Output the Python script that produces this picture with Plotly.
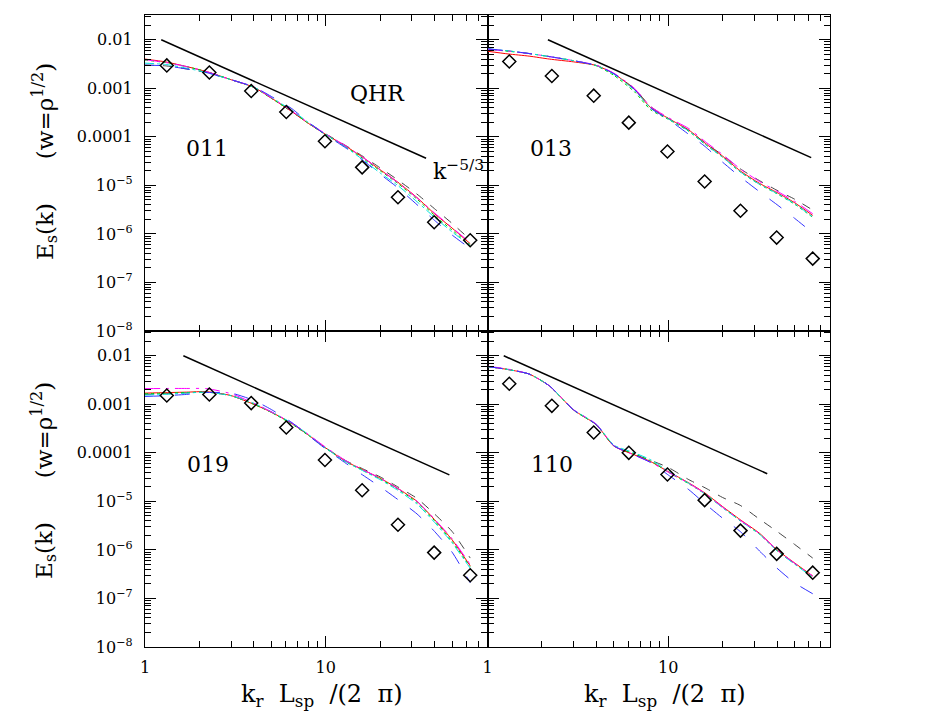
import plotly.graph_objects as go

# ---------------- data ----------------
K = [1, 1.3, 1.7, 2.2, 3, 4, 5, 6.5, 8, 10, 13, 16, 20, 25, 32, 40, 50, 63]
DK = [1.32, 2.27, 3.87, 6.05, 9.9, 15.9, 25.1, 39.8, 63]

PANELS = ["011", "013", "019", "110"]

# panel 011
E011_red = [4.0e-3, 3.5e-3, 2.8e-3, 2.2e-3, 1.5e-3, 1.05e-3, 6.3e-4, 3.3e-4, 1.9e-4, 1.12e-4, 6.3e-5, 3.8e-5, 2.1e-5, 1.17e-5, 5.6e-6, 2.6e-6, 1.32e-6, 6.3e-7]
E011_mag = [3.9e-3, 3.4e-3, 2.8e-3, 2.2e-3, 1.5e-3, 1.07e-3, 6.4e-4, 3.4e-4, 1.95e-4, 1.15e-4, 6.4e-5, 3.8e-5, 2.1e-5, 1.15e-5, 5.5e-6, 2.7e-6, 1.35e-6, 6.6e-7]
E011_grn = [3.8e-3, 3.4e-3, 2.8e-3, 2.2e-3, 1.5e-3, 1.04e-3, 6.2e-4, 3.3e-4, 1.9e-4, 1.1e-4, 6.1e-5, 3.6e-5, 2.0e-5, 1.1e-5, 5.2e-6, 2.4e-6, 1.2e-6, 6.0e-7]
E011_cyn = [3.3e-3, 3.1e-3, 2.6e-3, 2.1e-3, 1.5e-3, 1.06e-3, 6.5e-4, 3.5e-4, 2.0e-4, 1.12e-4, 6.0e-5, 3.4e-5, 1.8e-5, 1.0e-5, 4.6e-6, 2.2e-6, 1.1e-6, 5.8e-7]
E011_blk = [3.0e-3, 2.9e-3, 2.5e-3, 2.1e-3, 1.5e-3, 1.05e-3, 6.3e-4, 3.3e-4, 1.95e-4, 1.15e-4, 6.5e-5, 4.0e-5, 2.3e-5, 1.3e-5, 6.6e-6, 3.3e-6, 1.65e-6, 7.6e-7]
E011_blu = [3.0e-3, 2.9e-3, 2.5e-3, 2.1e-3, 1.5e-3, 1.07e-3, 6.8e-4, 3.8e-4, 2.0e-4, 1.1e-4, 5.8e-5, 3.3e-5, 1.7e-5, 9.0e-6, 4.0e-6, 1.9e-6, 9.5e-7, 5.0e-7]
D011 = [2.96e-3, 2.12e-3, 8.8e-4, 3.25e-4, 8.1e-5, 2.35e-5, 5.7e-6, 1.74e-6, 7.4e-7]

# panel 013
E013_red = [5.8e-3, 5.1e-3, 4.6e-3, 4.0e-3, 3.5e-3, 2.95e-3, 2.0e-3, 9.5e-4, 4.0e-4, 2.4e-4, 1.38e-4, 7.4e-5, 4.0e-5, 2.0e-5, 1.1e-5, 7.1e-6, 4.4e-6, 2.4e-6]
E013_mag = [6.4e-3, 5.8e-3, 5.2e-3, 4.5e-3, 3.7e-3, 3.0e-3, 2.05e-3, 1.0e-3, 4.2e-4, 2.5e-4, 1.48e-4, 8.0e-5, 4.3e-5, 2.2e-5, 1.2e-5, 7.6e-6, 4.7e-6, 2.6e-6]
E013_grn = [6.4e-3, 5.8e-3, 5.2e-3, 4.5e-3, 3.7e-3, 2.9e-3, 1.85e-3, 8.5e-4, 3.6e-4, 2.3e-4, 1.3e-4, 7.0e-5, 3.8e-5, 1.9e-5, 1.05e-5, 6.7e-6, 4.1e-6, 2.2e-6]
E013_cyn = [6.5e-3, 5.9e-3, 5.2e-3, 4.5e-3, 3.7e-3, 2.95e-3, 1.95e-3, 9.2e-4, 3.9e-4, 2.35e-4, 1.32e-4, 7.1e-5, 3.8e-5, 1.9e-5, 1.05e-5, 6.8e-6, 4.2e-6, 2.25e-6]
E013_blk = [6.5e-3, 5.9e-3, 5.2e-3, 4.5e-3, 3.7e-3, 2.95e-3, 2.0e-3, 9.8e-4, 4.2e-4, 2.4e-4, 1.35e-4, 7.5e-5, 4.2e-5, 2.2e-5, 1.25e-5, 7.9e-6, 5.2e-6, 3.1e-6]
E013_blu = [6.5e-3, 5.9e-3, 5.2e-3, 4.5e-3, 3.7e-3, 2.95e-3, 2.0e-3, 9.5e-4, 3.9e-4, 2.3e-4, 1.12e-4, 6.3e-5, 3.0e-5, 1.5e-5, 7.4e-6, 4.0e-6, 2.1e-6, 1.05e-6]
D013 = [3.57e-3, 1.79e-3, 7.05e-4, 1.96e-4, 5.0e-5, 1.2e-5, 3.0e-6, 8.4e-7, 3.1e-7]

# panel 019
E019_red = [1.7e-3, 1.74e-3, 1.78e-3, 1.82e-3, 1.51e-3, 1.0e-3, 6.9e-4, 4.0e-4, 2.35e-4, 1.26e-4, 6.6e-5, 4.5e-5, 3.0e-5, 1.86e-5, 1.0e-5, 4.2e-6, 1.62e-6, 4.7e-7]
E019_mag = [2.1e-3, 2.12e-3, 2.12e-3, 2.1e-3, 1.65e-3, 1.05e-3, 7.0e-4, 4.1e-4, 2.4e-4, 1.3e-4, 6.8e-5, 4.5e-5, 3.0e-5, 1.85e-5, 1.0e-5, 4.3e-6, 1.7e-6, 5.0e-7]
E019_grn = [1.65e-3, 1.7e-3, 1.75e-3, 1.78e-3, 1.5e-3, 1.0e-3, 6.8e-4, 3.9e-4, 2.3e-4, 1.25e-4, 6.4e-5, 4.4e-5, 2.9e-5, 1.8e-5, 9.5e-6, 4.0e-6, 1.5e-6, 4.5e-7]
E019_cyn = [1.55e-3, 1.6e-3, 1.7e-3, 1.78e-3, 1.5e-3, 1.05e-3, 7.0e-4, 4.1e-4, 2.4e-4, 1.25e-4, 6.5e-5, 4.3e-5, 2.8e-5, 1.7e-5, 8.8e-6, 3.7e-6, 1.4e-6, 4.2e-7]
E019_blk = [1.6e-3, 1.65e-3, 1.72e-3, 1.78e-3, 1.5e-3, 1.02e-3, 6.9e-4, 4.0e-4, 2.35e-4, 1.27e-4, 6.8e-5, 4.7e-5, 3.2e-5, 2.0e-5, 1.15e-5, 5.5e-6, 2.4e-6, 6.8e-7]
E019_blu = [1.45e-3, 1.5e-3, 1.6e-3, 1.75e-3, 1.7e-3, 1.2e-3, 7.8e-4, 4.2e-4, 2.3e-4, 1.2e-4, 6.0e-5, 3.5e-5, 2.0e-5, 1.1e-5, 5.5e-6, 2.4e-6, 9.0e-7, 2.1e-7]
D019 = [1.52e-3, 1.59e-3, 1.06e-3, 3.33e-4, 7.1e-5, 1.7e-5, 3.3e-6, 8.8e-7, 3.0e-7]

# panel 110
E110_red = [6.0e-3, 5.2e-3, 4.2e-3, 2.4e-3, 7.6e-4, 3.8e-4, 1.38e-4, 9.1e-5, 6.6e-5, 4.1e-5, 2.4e-5, 1.48e-5, 7.8e-6, 4.2e-6, 2.2e-6, 1.0e-6, 5.4e-7, 2.9e-7]
E110_mag = [6.1e-3, 5.3e-3, 4.2e-3, 2.4e-3, 7.7e-4, 3.9e-4, 1.4e-4, 9.0e-5, 6.4e-5, 4.0e-5, 2.35e-5, 1.45e-5, 7.6e-6, 4.1e-6, 2.15e-6, 1.0e-6, 5.3e-7, 2.9e-7]
E110_grn = [6.0e-3, 5.2e-3, 4.2e-3, 2.4e-3, 7.5e-4, 3.8e-4, 1.4e-4, 9.5e-5, 6.8e-5, 4.0e-5, 2.3e-5, 1.42e-5, 7.5e-6, 4.0e-6, 2.1e-6, 9.6e-7, 5.2e-7, 2.8e-7]
E110_cyn = [6.0e-3, 5.2e-3, 4.2e-3, 2.4e-3, 7.7e-4, 3.9e-4, 1.45e-4, 1.0e-4, 7.2e-5, 4.2e-5, 2.35e-5, 1.42e-5, 7.4e-6, 4.0e-6, 2.1e-6, 9.6e-7, 5.1e-7, 2.7e-7]
E110_blk = [6.0e-3, 5.2e-3, 4.2e-3, 2.4e-3, 7.6e-4, 3.8e-4, 1.4e-4, 9.3e-5, 7.0e-5, 5.0e-5, 2.8e-5, 1.9e-5, 1.2e-5, 8.3e-6, 4.3e-6, 2.4e-6, 1.3e-6, 6.8e-7]
E110_blu = [6.0e-3, 5.2e-3, 4.2e-3, 2.4e-3, 7.6e-4, 3.8e-4, 1.4e-4, 9.0e-5, 6.3e-5, 3.5e-5, 1.74e-5, 8.9e-6, 4.5e-6, 2.4e-6, 9.5e-7, 4.2e-7, 2.1e-7, 1.25e-7]
D110 = [2.65e-3, 9.3e-4, 2.63e-4, 1.0e-4, 3.57e-5, 1.06e-5, 2.5e-6, 8.3e-7, 3.4e-7]

# k^-5/3 reference segments (start / end k, start amplitude)
REF_K0 = [1.23, 2.16, 1.63, 1.23]
REF_K1 = [35.9, 61.8, 48.3, 35.3]
REF_E0 = [0.01, 0.01, 0.01, 0.01]
SLOPE = -5.0 / 3.0

Y_TICKVALS = [1e-2, 1e-3, 1e-4, 1e-5, 1e-6, 1e-7, 1e-8]
Y_TICKTEXT = ["0.01", "0.001", "0.0001", "10<sup>−5</sup>", "10<sup>−6</sup>",
              "10<sup>−7</sup>", "10<sup>−8</sup>"]
X_TICKVALS = [1, 10, 100]
X_TICKTEXT = ["1", "10", "100"]

SERIES = {
    "011": [E011_blk, E011_red, E011_grn, E011_cyn, E011_mag, E011_blu],
    "013": [E013_blk, E013_red, E013_grn, E013_cyn, E013_mag, E013_blu],
    "019": [E019_blk, E019_red, E019_grn, E019_cyn, E019_mag, E019_blu],
    "110": [E110_blk, E110_red, E110_grn, E110_cyn, E110_mag, E110_blu],
}
DIAMONDS = {"011": D011, "013": D013, "019": D019, "110": D110}

STYLES = [
    dict(color="#444444", dash="dash"),
    dict(color="#ff0000", dash="solid"),
    dict(color="#00d000", dash="dot"),
    dict(color="#00e0e0", dash="dashdot"),
    dict(color="#ff00ff", dash="longdashdot"),
    dict(color="#3333ff", dash="longdash"),
]

FONT = "DejaVu Serif"

# ---------------- figure ----------------
fig = go.Figure()

axis_ids = ["", "2", "3", "4"]
for i, name in enumerate(PANELS):
    xa = "x" + axis_ids[i]
    ya = "y" + axis_ids[i]
    for st, ser in zip(STYLES, SERIES[name]):
        fig.add_trace(go.Scatter(
            x=K, y=ser, mode="lines", xaxis=xa, yaxis=ya,
            line=dict(color=st["color"], dash=st["dash"], width=1, shape="spline", smoothing=0.6),
            showlegend=False, hoverinfo="skip"))
    k0, k1, e0 = REF_K0[i], REF_K1[i], REF_E0[i]
    fig.add_trace(go.Scatter(
        x=[k0, k1], y=[e0, e0 * (k1 / k0) ** SLOPE], mode="lines",
        xaxis=xa, yaxis=ya, line=dict(color="black", width=1.5),
        showlegend=False, hoverinfo="skip"))
    fig.add_trace(go.Scatter(
        x=DK, y=DIAMONDS[name], mode="markers", xaxis=xa, yaxis=ya,
        marker=dict(symbol="diamond-open", size=10, color="black", line=dict(width=1.5, color="black")),
        showlegend=False, hoverinfo="skip"))

XR = [0, 1.895]
YR = [-8, -1.49]
domains = {
    0: ([0, 0.5], [0.5, 1]),
    1: ([0.5, 1], [0.5, 1]),
    2: ([0, 0.5], [0, 0.5]),
    3: ([0.5, 1], [0, 0.5]),
}
tickfont = dict(family=FONT, size=16, color="black")
for i in range(4):
    dx, dy = domains[i]
    bottom = i >= 2
    left = i in (0, 2)
    xkey = "xaxis" + axis_ids[i]
    ykey = "yaxis" + axis_ids[i]
    fig.layout[xkey] = dict(
        type="log", range=XR, domain=dx, anchor="y" + axis_ids[i],
        showline=True, linecolor="black", linewidth=1.2, mirror="allticks",
        ticks="inside", ticklen=11, tickwidth=1, tickcolor="black",
        tickvals=X_TICKVALS, ticktext=X_TICKTEXT, showticklabels=bottom,
        tickfont=tickfont, ticklabelstandoff=6,
        minor=dict(ticks="inside", ticklen=6, tickcolor="black", tickwidth=1, dtick="D1", showgrid=False),
        showgrid=False, zeroline=False, fixedrange=True)
    fig.layout[ykey] = dict(
        type="log", range=YR, domain=dy, anchor="x" + axis_ids[i],
        showline=True, linecolor="black", linewidth=1.2, mirror="allticks",
        ticks="inside", ticklen=11, tickwidth=1, tickcolor="black",
        tickvals=Y_TICKVALS, ticktext=Y_TICKTEXT, showticklabels=left,
        tickfont=tickfont, ticklabelstandoff=8,
        minor=dict(ticks="inside", ticklen=6, tickcolor="black", tickwidth=1, dtick="D1", showgrid=False),
        showgrid=False, zeroline=False, fixedrange=True)

# page body has an 8px margin; compensate so the plot lands where the reference has it
OFF = 8
W, H = 937 - OFF, 719 - OFF
ML, MT = 145 - OFF, 15 - OFF
PW, PH = 685, 632
MR = W - ML - PW
MB = H - MT - PH


def px(xp):
    return (xp - OFF - ML) / PW


def py(yp):
    return (MT + PH - (yp - OFF)) / PH


ann = []
big = dict(family=FONT, size=22, color="black")
for lbl, (xx, yy) in zip(PANELS, [(207, 148), (551, 148), (208, 464), (552, 464)]):
    ann.append(dict(text=lbl, x=px(xx), y=py(yy), xref="paper", yref="paper",
                    showarrow=False, font=big, xanchor="center", yanchor="middle"))
ann.append(dict(text="QHR", x=px(377), y=py(93), xref="paper", yref="paper",
                showarrow=False, font=big, xanchor="center", yanchor="middle"))
ann.append(dict(text="k<sup>−5/3</sup>", x=px(431), y=py(170), xref="paper", yref="paper",
                showarrow=False, font=big, xanchor="left", yanchor="middle"))
ytitle = "E<sub>s</sub>(k)      (w=ρ<sup>1/2</sup>)"
ytfont = dict(family=FONT, size=23, color="black")
for yy in (162, 481):
    ann.append(dict(text=ytitle, x=px(44), y=py(yy), xref="paper", yref="paper",
                    showarrow=False, font=ytfont, textangle=-90,
                    xanchor="center", yanchor="middle"))
xtitle = "k<sub>r</sub>  L<sub>sp</sub>  /(2  π)"
xtfont = dict(family=FONT, size=24, color="black")
for xx in (322, 665):
    ann.append(dict(text=xtitle, x=px(xx), y=py(695), xref="paper", yref="paper",
                    showarrow=False, font=xtfont, xanchor="center", yanchor="middle"))

fig.update_layout(
    width=W, height=H,
    margin=dict(l=ML, r=MR, t=MT, b=MB),
    paper_bgcolor="white", plot_bgcolor="white",
    showlegend=False, annotations=ann,
    font=dict(family=FONT, color="black"),
)

fig.write_html("out.html")
